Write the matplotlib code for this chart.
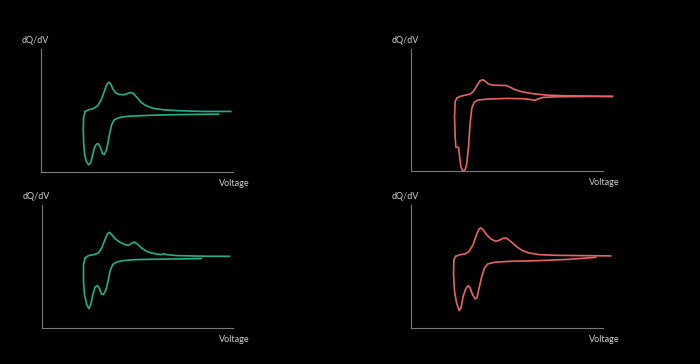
import matplotlib

matplotlib.use("Agg")
import matplotlib.pyplot as plt

plt.rcParams["font.family"] = ["Lato", "DejaVu Sans"]

GREEN = "#22b08b"
RED = "#e66466"
TEXT = "#cfcfcf"
AXIS = "#7a7a7a"

# top-left (green)
v_chg_1 = [2.943, 2.977, 3.027, 3.067, 3.100, 3.127, 3.153, 3.177, 3.197, 3.220, 3.247, 3.280,
           3.327, 3.367, 3.400, 3.427, 3.460, 3.500, 3.553, 3.627, 3.727, 3.893, 4.127, 4.400]
q_chg_1 = [0.0, 0.17, 0.30, 0.57, 1.10, 1.83, 2.57, 2.93, 2.77, 2.23, 1.87, 1.70,
           1.67, 1.80, 1.90, 1.77, 1.40, 0.93, 0.57, 0.30, 0.17, 0.07, 0.0, 0.0]
v_dis_1 = [2.943, 2.927, 2.923, 2.927, 2.937, 2.953, 2.977, 2.997, 3.013, 3.033, 3.053, 3.073, 3.093,
           3.117, 3.133, 3.153, 3.170, 3.187, 3.207, 3.233, 3.277, 3.327, 3.393, 3.627, 3.960, 4.277]
q_dis_1 = [0.0, -0.50, -1.83, -3.17, -4.33, -5.00, -5.33, -5.17, -4.50, -3.67, -3.27, -3.23, -3.57,
           -4.23, -4.30, -3.90, -3.17, -2.17, -1.33, -0.83, -0.63, -0.53, -0.47, -0.37, -0.30, -0.27]

# top-right (red)
v_chg_2 = [2.960, 2.993, 3.043, 3.093, 3.127, 3.160, 3.193, 3.220, 3.247, 3.277, 3.327,
           3.393, 3.453, 3.493, 3.543, 3.627, 3.727, 3.860, 4.027, 4.293, 4.517]
q_chg_2 = [-0.17, 0.0, 0.13, 0.23, 0.50, 1.07, 1.57, 1.67, 1.50, 1.23, 1.13,
           1.10, 1.10, 0.93, 0.67, 0.43, 0.27, 0.13, 0.07, 0.03, 0.0]
v_dis_2 = [2.960, 2.943, 2.937, 2.943, 2.950, 2.977, 2.987, 3.000, 3.020, 3.043, 3.060, 3.077, 3.093,
           3.110, 3.133, 3.167, 3.260, 3.460, 3.627, 3.710, 3.743, 3.777, 3.827, 3.960, 4.293, 4.517]
q_dis_2 = [-0.17, -0.50, -2.00, -4.00, -5.07, -5.10, -6.00, -7.00, -7.50, -7.33, -6.67, -5.00, -2.67,
           -1.17, -0.60, -0.37, -0.27, -0.20, -0.23, -0.33, -0.40, -0.23, -0.10, -0.03, 0.0, 0.0]

# bottom-left (green)
v_chg_3 = [2.933, 2.967, 3.023, 3.067, 3.100, 3.133, 3.157, 3.177, 3.200, 3.233, 3.283, 3.333, 3.367,
           3.400, 3.427, 3.457, 3.500, 3.550, 3.600, 3.650, 3.700, 3.717, 3.750, 3.850, 4.017, 4.217, 4.383]
q_chg_3 = [-0.17, 0.07, 0.17, 0.33, 0.83, 1.67, 2.23, 2.40, 2.17, 1.77, 1.40, 1.17, 1.10,
           1.30, 1.43, 1.23, 0.83, 0.50, 0.33, 0.23, 0.17, 0.27, 0.17, 0.07, 0.03, 0.0, 0.0]
v_dis_3 = [2.933, 2.917, 2.917, 2.927, 2.950, 2.970, 2.990, 3.010, 3.033, 3.057, 3.077, 3.097,
           3.117, 3.143, 3.163, 3.183, 3.210, 3.250, 3.317, 3.450, 3.617, 3.850, 4.100]
q_dis_3 = [-0.17, -0.83, -2.50, -3.83, -4.83, -5.23, -4.83, -3.83, -3.10, -2.93, -3.23, -3.77,
           -3.83, -3.33, -2.50, -1.50, -0.83, -0.57, -0.43, -0.33, -0.30, -0.27, -0.23]

# bottom-right (red)
v_chg_4 = [2.950, 2.983, 3.043, 3.083, 3.123, 3.157, 3.183, 3.203, 3.227, 3.257, 3.300, 3.350,
           3.383, 3.423, 3.450, 3.477, 3.517, 3.567, 3.617, 3.683, 3.783, 3.950, 4.217, 4.500]
q_chg_4 = [-0.07, 0.07, 0.17, 0.43, 1.10, 2.10, 2.67, 2.77, 2.53, 2.10, 1.67, 1.43,
           1.53, 1.73, 1.77, 1.60, 1.27, 0.83, 0.50, 0.27, 0.10, 0.03, 0.0, -0.03]
v_dis_4 = [2.950, 2.930, 2.927, 2.937, 2.957, 2.983, 3.003, 3.023, 3.050, 3.073, 3.093, 3.117,
           3.143, 3.163, 3.183, 3.210, 3.237, 3.270, 3.333, 3.483, 3.783, 4.083, 4.350]
q_dis_4 = [-0.07, -0.40, -1.90, -3.57, -4.73, -5.50, -5.17, -4.07, -3.30, -3.00, -3.23, -3.90,
           -4.33, -4.17, -3.23, -2.07, -1.23, -0.83, -0.67, -0.57, -0.50, -0.37, -0.17]

panels = [
    ((0.0586, 0.527, 0.274, 0.338), GREEN, v_chg_1, q_chg_1, v_dis_1, q_dis_1, (-6.07, 6.23)),
    ((0.587, 0.530, 0.274, 0.335), RED, v_chg_2, q_chg_2, v_dis_2, q_dis_2, (-7.47, 4.73)),
    ((0.060, 0.099, 0.273, 0.337), GREEN, v_chg_3, q_chg_3, v_dis_3, q_dis_3, (-7.17, 5.10)),
    ((0.587, 0.099, 0.274, 0.337), RED, v_chg_4, q_chg_4, v_dis_4, q_dis_4, (-7.23, 5.03)),
]

fig = plt.figure(figsize=(7.0, 3.64), dpi=100, facecolor="black")
for rect, color, vc, qc, vd, qd, ylim in panels:
    ax = fig.add_axes(rect, facecolor="black")
    ax.plot(vc, qc, color=color, lw=1.2, clip_on=False, solid_joinstyle="round")
    ax.plot(vd, qd, color=color, lw=1.2, clip_on=False, solid_joinstyle="round")
    ax.set_xlim(2.5, 4.42)
    ax.set_ylim(*ylim)
    for side in ("top", "right"):
        ax.spines[side].set_visible(False)
    for side in ("left", "bottom"):
        ax.spines[side].set_color(AXIS)
        ax.spines[side].set_linewidth(0.8)
    ax.set_xticks([])
    ax.set_yticks([])
    ax.annotate("dQ/dV", xy=(0, 1), xycoords="axes fraction", xytext=(-14, 6.5),
                textcoords="offset points", ha="left", va="center", fontsize=6.5, color=TEXT)
    ax.annotate("Voltage", xy=(1, 0), xycoords="axes fraction", xytext=(12, -8),
                textcoords="offset points", ha="right", va="center", fontsize=6.5, color=TEXT)

fig.savefig("out.png", dpi=100, facecolor="black")
